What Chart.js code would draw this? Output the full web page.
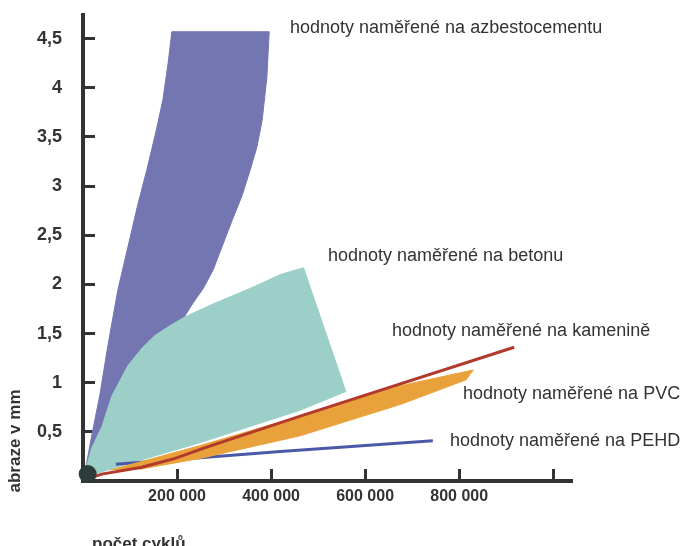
<!DOCTYPE html>
<html>
<head>
<meta charset="utf-8">
<script src="https://cdn.jsdelivr.net/npm/chart.js@4.4.1/dist/chart.umd.min.js"></script>
<style>
  html, body { margin: 0; padding: 0; background: #fff; }
  #wrap { width: 683px; height: 546px; position: relative; }
</style>
</head>
<body>
<div id="wrap"><canvas id="abrazeChart"></canvas></div>
<script>
const xTickValues = [200000, 400000, 600000, 800000, 1000000];
const xTickLabels = ["200 000", "400 000", "600 000", "800 000", ""];
const yTickValues = [0.5, 1, 1.5, 2, 2.5, 3, 3.5, 4, 4.5];
const yTickLabels = ["0,5", "1", "1,5", "2", "2,5", "3", "3,5", "4", "4,5"];

// outlines of the measured ranges, [počet cyklů, abraze v mm]
const azbestocement = [
  [0, 0], [8000, 0.19], [21000, 0.52], [36000, 0.88], [53000, 1.38], [74000, 1.94],
  [95000, 2.37], [116000, 2.8], [136000, 3.17], [155000, 3.55], [170000, 3.88],
  [181000, 4.25], [189000, 4.57], [396000, 4.57], [391000, 4.1], [381000, 3.67],
  [370000, 3.4], [356000, 3.17], [338000, 2.9], [318000, 2.66], [297000, 2.4],
  [277000, 2.15], [256000, 1.96], [234000, 1.81], [180000, 1.4], [120000, 0.95],
  [60000, 0.45], [20000, 0.12]
];
const beton = [
  [0, 0.02], [6000, 0.12], [18000, 0.33], [40000, 0.55], [61000, 0.86], [95000, 1.17],
  [125000, 1.35], [153000, 1.48], [185000, 1.58], [217000, 1.67], [281000, 1.81],
  [356000, 1.96], [420000, 2.1], [469000, 2.17], [559000, 0.91], [462000, 0.72],
  [249000, 0.39], [78000, 0.15], [25000, 0.07]
];
const kamenina = [
  [0, 0], [14000, 0.03], [40000, 0.07], [125000, 0.14], [196000, 0.23], [260000, 0.34],
  [462000, 0.66], [917000, 1.36]
];
const pvc = [
  [57000, 0.11], [249000, 0.36], [462000, 0.66], [676000, 0.97], [830000, 1.13],
  [815000, 1.03], [676000, 0.78], [462000, 0.46], [249000, 0.23], [121000, 0.12]
];
const pehd = [[70000, 0.17], [420000, 0.3], [744000, 0.41]];
const pocatek = [[10000, 0.07]];

const notes = [
  { text: "hodnoty naměřené na azbestocementu", x: 290, y: 28 },
  { text: "hodnoty naměřené na betonu", x: 328, y: 256 },
  { text: "hodnoty naměřené na kamenině", x: 392, y: 331 },
  { text: "hodnoty naměřené na PVC", x: 463, y: 394 },
  { text: "hodnoty naměřené na PEHD", x: 450, y: 441 }
];

function pts(arr) {
  return arr.map(p => ({ x: p[0], y: p[1] }));
}

const textFont = "'Liberation Sans', Arial, sans-serif";

const notesPlugin = {
  id: "notes",
  afterDraw(chart) {
    const ctx = chart.ctx;
    ctx.save();
    ctx.fillStyle = "#333";
    ctx.font = "18px " + textFont;
    ctx.textBaseline = "middle";
    notes.forEach(n => ctx.fillText(n.text, n.x, n.y));

    // axis titles
    ctx.font = "bold 17px " + textFont;
    ctx.textBaseline = "alphabetic";
    ctx.fillText("počet cyklů", 92, 549);
    ctx.translate(20, 441);
    ctx.rotate(-Math.PI / 2);
    ctx.textAlign = "center";
    ctx.fillText("abraze v mm", 0, 0);
    ctx.restore();
  }
};

// fixed axis sizes so the plot area sits where it does in the original
function fixSize(s, w, h) {
  if (w) s.width = w;
  if (h) s.height = h;
  s.paddingTop = 0;
  s.paddingBottom = 0;
  s.paddingLeft = 0;
  s.paddingRight = 0;
}

const ctx = document.getElementById("abrazeChart").getContext("2d");

new Chart(ctx, {
  type: "scatter",
  data: {
    datasets: [
      {
        label: "počátek",
        data: pts(pocatek),
        pointRadius: 9,
        pointHoverRadius: 9,
        pointBackgroundColor: "#2d3b3b",
        pointBorderWidth: 0,
        clip: false
      },
      {
        label: "kamenina",
        data: pts(kamenina),
        showLine: true,
        borderColor: "#b23a2c",
        borderWidth: 3,
        pointRadius: 0
      },
      {
        label: "PVC",
        data: pts(pvc),
        showLine: true,
        fill: "shape",
        backgroundColor: "#e9a23b",
        borderColor: "#e9a23b",
        borderWidth: 1,
        pointRadius: 0
      },
      {
        label: "PEHD",
        data: pts(pehd),
        showLine: true,
        borderColor: "#4b58a8",
        borderWidth: 3,
        pointRadius: 0
      },
      {
        label: "beton",
        data: pts(beton),
        showLine: true,
        fill: "shape",
        backgroundColor: "#9ccfc8",
        borderColor: "#9ccfc8",
        borderWidth: 1,
        pointRadius: 0
      },
      {
        label: "azbestocement",
        data: pts(azbestocement),
        showLine: true,
        fill: "shape",
        backgroundColor: "#7376b1",
        borderColor: "#7376b1",
        borderWidth: 1,
        pointRadius: 0
      }
    ]
  },
  options: {
    responsive: true,
    maintainAspectRatio: false,
    animation: false,
    layout: { autoPadding: false, padding: { top: 15, right: 111, left: 0, bottom: 0 } },
    plugins: {
      legend: { display: false },
      tooltip: { enabled: false }
    },
    scales: {
      x: {
        type: "linear",
        min: 0,
        max: 1040000,
        afterBuildTicks: s => { s.ticks = xTickValues.map(v => ({ value: v })); },
        afterFit: s => fixSize(s, 0, 65),
        ticks: {
          callback: (v, i) => xTickLabels[i],
          font: { family: textFont, size: 16, weight: "bold" },
          color: "#333",
          padding: 18,
          maxRotation: 0,
          autoSkip: false
        },
        grid: { drawOnChartArea: false, tickLength: -12, tickWidth: 3, tickColor: "#333" },
        border: { color: "#333", width: 4 }
      },
      y: {
        min: 0,
        max: 4.74,
        afterBuildTicks: s => { s.ticks = yTickValues.map(v => ({ value: v })); },
        afterFit: s => fixSize(s, 83, 0),
        ticks: {
          callback: (v, i) => yTickLabels[i],
          font: { family: textFont, size: 18, weight: "bold" },
          color: "#333",
          padding: 33,
          autoSkip: false
        },
        grid: { drawOnChartArea: false, tickLength: -12, tickWidth: 3, tickColor: "#333" },
        border: { color: "#333", width: 4 }
      }
    }
  },
  plugins: [notesPlugin]
});
</script>
</body>
</html>
